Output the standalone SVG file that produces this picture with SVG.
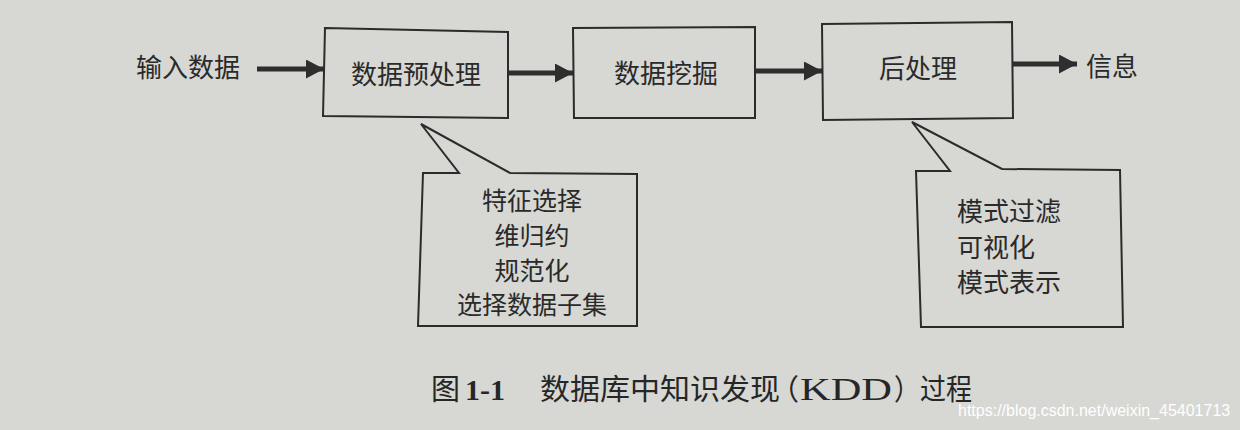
<svg xmlns="http://www.w3.org/2000/svg" width="1240" height="430" viewBox="0 0 1240 430">
  <style>
    .bg { fill: #d7d7d3; }
    .box { fill: none; stroke: #2b2b2b; stroke-width: 2; }
    .lbl { font-family: "Noto Sans CJK SC", "Noto Sans", sans-serif; font-size: 26px; fill: #2a2a2a; }
    .note { font-size: 25px; }
    .mid { text-anchor: middle; }
    .conn { stroke: #2e2e2e; stroke-width: 5; fill: none; }
    .cap { font-family: "Noto Sans CJK SC", sans-serif; font-size: 29px; fill: #262626; }
    .capn { font-family: "Liberation Serif", serif; font-size: 30px; fill: #262626; font-weight: bold; }
    .kdd { font-weight: normal; font-size: 31px; }
    .wm { font-family: "Liberation Sans", sans-serif; font-size: 16px; fill: #ffffff; }
  </style>
  <defs>
    <marker id="ah" markerUnits="userSpaceOnUse" markerWidth="19" markerHeight="19" refX="18" refY="9.5" orient="auto">
      <polygon points="0,0 18,9.5 0,19" fill="#2e2e2e"/>
    </marker>
  </defs>
  <rect class="bg" x="0" y="0" width="1240" height="430"/>

  <g id="input">
    <text class="lbl" x="136" y="77">输入数据</text>
  </g>
  <g id="preprocess">
    <polygon class="box" points="325,28 508,32 508,118 323,116"/>
    <text class="lbl mid" x="416" y="84">数据预处理</text>
  </g>
  <g id="mining">
    <polygon class="box" points="573,28 755,27 755,118 574,118"/>
    <text class="lbl mid" x="666" y="83">数据挖掘</text>
  </g>
  <g id="postprocess">
    <polygon class="box" points="822,24 1012,22 1013,118 823,120"/>
    <text class="lbl mid" x="918" y="78">后处理</text>
  </g>
  <g id="info">
    <text class="lbl" x="1086" y="76">信息</text>
  </g>
  <g id="preprocess-note">
    <polygon class="box" points="421,124 510,173 637,174 637,326 418,326 423,173 459,173"/>
    <text class="lbl note mid" x="532" y="210">特征选择</text>
    <text class="lbl note mid" x="532" y="245">维归约</text>
    <text class="lbl note mid" x="532" y="280">规范化</text>
    <text class="lbl note mid" x="532" y="314">选择数据子集</text>
  </g>
  <g id="postprocess-note">
    <polygon class="box" points="912,122 1002,169 1120,170 1123,327 921,327 916,171 950,171"/>
    <text class="lbl" x="957" y="221">模式过滤</text>
    <text class="lbl" x="957" y="257">可视化</text>
    <text class="lbl" x="957" y="292">模式表示</text>
  </g>

  <g id="connectors">
    <line class="conn" x1="257" y1="69" x2="324" y2="69" marker-end="url(#ah)"/>
    <line class="conn" x1="508" y1="73" x2="573" y2="73" marker-end="url(#ah)"/>
    <line class="conn" x1="755" y1="71" x2="822" y2="71" marker-end="url(#ah)"/>
    <line class="conn" x1="1012" y1="64" x2="1077" y2="64" marker-end="url(#ah)"/>
  </g>

  <g id="caption">
    <text class="cap" x="431" y="400">图</text>
    <text class="capn" x="465" y="400">1-1</text>
    <text class="cap" x="540" y="400" textLength="240" lengthAdjust="spacingAndGlyphs">数据库中知识发现</text>
    <text class="cap" x="770" y="400">（</text>
    <text class="capn kdd" x="800" y="400" textLength="92" lengthAdjust="spacingAndGlyphs">KDD</text>
    <text class="cap" x="894" y="400" textLength="78" lengthAdjust="spacingAndGlyphs">）过程</text>
  </g>
  <text class="wm" x="958" y="416">https://blog.csdn.net/weixin_45401713</text>
</svg>
